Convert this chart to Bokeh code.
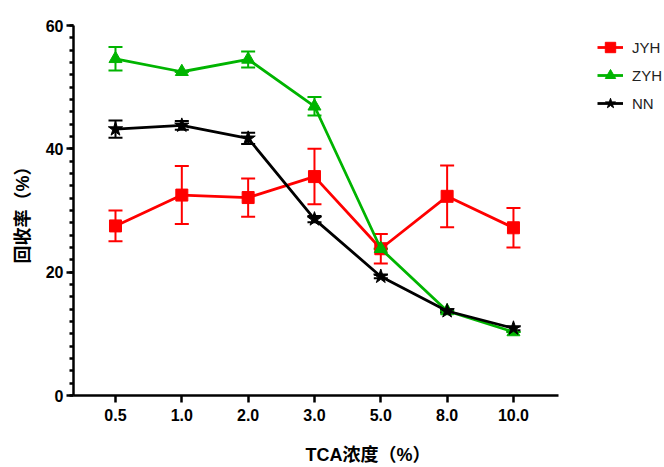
from bokeh.plotting import figure
from bokeh.models import (ColumnDataSource, Whisker, TeeHead, Range1d, FixedTicker,
                          SingleIntervalTicker, Legend, LegendItem)
from bokeh.embed import file_html
from bokeh.resources import INLINE

categories = ["0.5", "1.0", "2.0", "3.0", "5.0", "8.0", "10.0"]
jyh = [27.5, 32.5, 32.1, 35.5, 23.8, 32.3, 27.2]
jyh_err = [2.5, 4.7, 3.1, 4.5, 2.4, 5.0, 3.2]
zyh = [54.6, 52.5, 54.5, 46.9, 23.8, 13.7, 10.3]
zyh_err = [1.9, 0.0, 1.3, 1.5, 0.0, 0.0, 0.0]
nn = [43.2, 43.8, 41.7, 28.6, 19.3, 13.7, 10.9]
nn_err = [1.4, 0.7, 0.9, 0.5, 0.3, 0.3, 0.3]

FONT = "Liberation Sans, Noto Sans CJK SC, sans-serif"
RED = "#FF0000"
GREEN = "#00B400"
BLACK = "#000000"

X0, X1 = -0.633, 6.68          # visible extent of the x axis line
p = figure(width=664, height=467, output_backend="svg", toolbar_location=None,
           x_range=Range1d(X0, 8.247), y_range=Range1d(0, 60),
           min_border_left=73, min_border_right=2, min_border_top=25, min_border_bottom=72)
p.outline_line_color = None
p.xgrid.visible = False
p.ygrid.visible = False

xs = list(range(len(categories)))

def add_series(vals, errs, color, marker, size):
    src = ColumnDataSource(dict(x=xs, y=vals,
                                lo=[v - e for v, e in zip(vals, errs)],
                                hi=[v + e for v, e in zip(vals, errs)]))
    w = Whisker(source=src, base="x", upper="hi", lower="lo",
                line_color=color, line_width=2,
                upper_head=TeeHead(size=14, line_color=color, line_width=2),
                lower_head=TeeHead(size=14, line_color=color, line_width=2))
    p.add_layout(w)
    ln = p.line("x", "y", source=src, line_color=color, line_width=2.8)
    sc = p.scatter("x", "y", source=src, marker=marker, size=size,
                   fill_color=color, line_color=color)
    return ln, sc

r1 = add_series(jyh, jyh_err, RED, "square", 12)
r2 = add_series(zyh, zyh_err, GREEN, "triangle", 13)
r3 = add_series(nn, nn_err, BLACK, "star", 15)

legend = Legend(items=[LegendItem(label="JYH", renderers=list(r1)),
                       LegendItem(label="ZYH", renderers=list(r2)),
                       LegendItem(label="NN", renderers=list(r3))],
                location=(524, 279), border_line_color=None, background_fill_alpha=0,
                padding=0, margin=0, spacing=2, glyph_width=26, glyph_height=26,
                label_standoff=9, label_text_font=FONT, label_text_font_size="15px",
                label_text_color="#222222")
p.add_layout(legend)

# axes
p.xaxis.ticker = FixedTicker(ticks=xs)
p.xaxis.major_label_overrides = {i: c for i, c in enumerate(categories)}
p.xaxis.minor_tick_line_color = None
p.xaxis.bounds = (X0, X1)
p.yaxis.ticker = SingleIntervalTicker(interval=20, num_minor_ticks=10)

for ax in (p.xaxis, p.yaxis):
    ax.axis_line_width = 2.5
    ax.axis_line_color = BLACK
    ax.major_tick_line_width = 2.5
    ax.major_tick_line_color = BLACK
    ax.major_tick_out = 7
    ax.major_tick_in = 0
    ax.minor_tick_line_width = 2.5
    ax.minor_tick_out = 4
    ax.minor_tick_in = 0
    ax.major_label_text_font = FONT
    ax.major_label_text_font_style = "bold"
    ax.major_label_text_font_size = "16px"
    ax.major_label_text_color = BLACK
    ax.axis_label_text_font = FONT
    ax.axis_label_text_font_style = "bold"
    ax.axis_label_text_font_size = "18px"
    ax.axis_label_text_color = BLACK

p.xaxis.axis_label = "TCA浓度（%）"
p.yaxis.axis_label = "回收率（%）"
p.xaxis.major_label_standoff = 6
p.yaxis.major_label_standoff = 3
p.xaxis.axis_label_standoff = 21
p.yaxis.axis_label_standoff = 10

open("out.html", "w").write(file_html(p, INLINE))
